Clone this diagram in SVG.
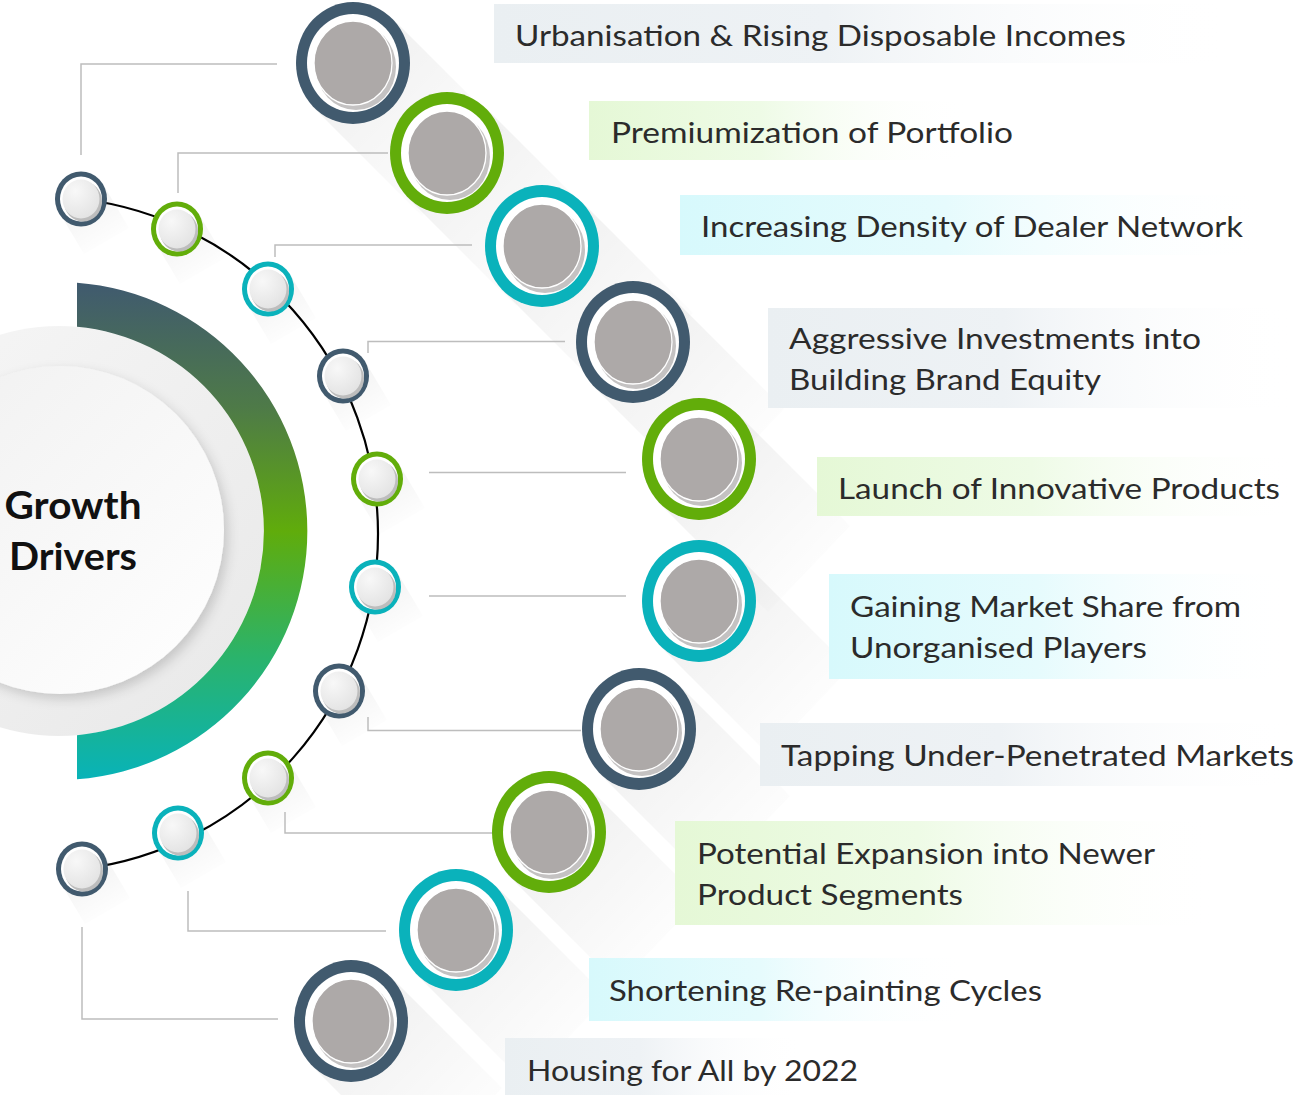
<svg xmlns="http://www.w3.org/2000/svg" width="1294" height="1095" viewBox="0 0 1294 1095">
<style>
  .lbl{font-family:Lato,"Liberation Sans",sans-serif;font-size:29px;fill:#2B2B2B}
  .title{font-family:Lato,"Liberation Sans",sans-serif;font-size:38px;font-weight:bold;fill:#111}
  .conn{fill:none;stroke:#BDBDBD;stroke-width:1.5}
  .slate{fill:#415A6E}
  .green{fill:#62AD0A}
  .teal{fill:#0AB2BB}
  .wr{fill:#FFFFFF}
  .gd{fill:#ADA9A8;stroke:#FFFFFF;stroke-width:1.3}
  .gdsh{fill:#C4C2C2}
  .sd{fill:url(#smallDisc)}
  .sdsh{fill:#BDBDBD}
  .lsB{fill:url(#shBig)}
  .lsS{fill:url(#shSmall)}
</style>
<defs>
  <linearGradient id="arcGrad" x1="0" y1="0" x2="0" y2="1">
    <stop offset="0" stop-color="#405A6F"/>
    <stop offset="0.25" stop-color="#4E7A48"/>
    <stop offset="0.5" stop-color="#60AC0B"/>
    <stop offset="0.75" stop-color="#2BB36A"/>
    <stop offset="1" stop-color="#08B3B8"/>
  </linearGradient>
  <linearGradient id="bgSlate" x1="0" y1="0" x2="1" y2="0">
    <stop offset="0" stop-color="#EAEFF2"/>
    <stop offset="0.45" stop-color="#EEF2F5"/>
    <stop offset="1" stop-color="#FFFFFF" stop-opacity="0"/>
  </linearGradient>
  <linearGradient id="bgGreen" x1="0" y1="0" x2="1" y2="0">
    <stop offset="0" stop-color="#E5F8D6"/>
    <stop offset="0.45" stop-color="#EEFBE6"/>
    <stop offset="1" stop-color="#FFFFFF" stop-opacity="0"/>
  </linearGradient>
  <linearGradient id="bgTeal" x1="0" y1="0" x2="1" y2="0">
    <stop offset="0" stop-color="#D7F9FC"/>
    <stop offset="0.45" stop-color="#E6FBFD"/>
    <stop offset="1" stop-color="#FFFFFF" stop-opacity="0"/>
  </linearGradient>
  <linearGradient id="shBig" x1="0" y1="0" x2="1" y2="1">
    <stop offset="0.3" stop-color="#000" stop-opacity="0.05"/>
    <stop offset="0.9" stop-color="#000" stop-opacity="0"/>
  </linearGradient>
  <linearGradient id="shSmall" x1="0" y1="0" x2="0.6" y2="1">
    <stop offset="0.25" stop-color="#000" stop-opacity="0.05"/>
    <stop offset="1" stop-color="#000" stop-opacity="0"/>
  </linearGradient>
  <radialGradient id="smallDisc" cx="0.35" cy="0.3" r="0.75">
    <stop offset="0" stop-color="#F8F8F8"/>
    <stop offset="1" stop-color="#E3E3E3"/>
  </radialGradient>
  <linearGradient id="outerDisc" x1="0" y1="0" x2="1" y2="1">
    <stop offset="0" stop-color="#F7F7F7"/>
    <stop offset="1" stop-color="#E8E8E8"/>
  </linearGradient>
  <linearGradient id="innerDisc" x1="1" y1="1" x2="0" y2="0">
    <stop offset="0" stop-color="#FFFFFF"/>
    <stop offset="1" stop-color="#F0F0F0"/>
  </linearGradient>
  <filter id="softSh" x="-20%" y="-20%" width="140%" height="140%">
    <feDropShadow dx="4" dy="5" stdDeviation="6" flood-color="#000" flood-opacity="0.16"/>
  </filter>
</defs>

<!-- long shadows -->
<g id="long-shadows">
  <polygon class="lsS" points="104,186 59,212 84,254 129,228"/>
  <polygon class="lsS" points="200,216 155,242 180,284 225,258"/>
  <polygon class="lsS" points="291,276 246,302 271,344 316,318"/>
  <polygon class="lsS" points="366,363 321,389 346,431 391,405"/>
  <polygon class="lsS" points="400,466 355,492 380,534 425,508"/>
  <polygon class="lsS" points="398,574 353,600 378,642 423,616"/>
  <polygon class="lsS" points="362,678 317,704 342,746 387,720"/>
  <polygon class="lsS" points="291,765 246,791 271,833 316,807"/>
  <polygon class="lsS" points="201,820 156,846 181,888 226,862"/>
  <polygon class="lsS" points="105,856 60,882 85,924 130,898"/>

  <polygon class="lsB" points="394,20 312,106 422,216 504,130"/>
  <polygon class="lsB" points="488,110 406,196 516,306 598,220"/>
  <polygon class="lsB" points="583,203 501,289 611,399 693,313"/>
  <polygon class="lsB" points="674,299 592,385 702,495 784,409"/>
  <polygon class="lsB" points="740,416 658,502 768,612 850,526"/>
  <polygon class="lsB" points="740,558 658,644 768,754 850,668"/>
  <polygon class="lsB" points="680,686 598,772 708,882 790,796"/>
  <polygon class="lsB" points="590,789 508,875 618,985 700,899"/>
  <polygon class="lsB" points="497,887 415,973 525,1083 607,997"/>
  <polygon class="lsB" points="392,978 310,1064 420,1174 502,1088"/>
</g>

<!-- label backgrounds -->
<g id="label-boxes">
  <rect x="494" y="4" width="740" height="59" fill="url(#bgSlate)"/>
  <rect x="589" y="101" width="380" height="59" fill="url(#bgGreen)"/>
  <rect x="680" y="195" width="590" height="60" fill="url(#bgTeal)"/>
  <rect x="768" y="308" width="526" height="100" fill="url(#bgSlate)"/>
  <rect x="817" y="457" width="477" height="59" fill="url(#bgGreen)"/>
  <rect x="829" y="574" width="465" height="105" fill="url(#bgTeal)"/>
  <rect x="760" y="723" width="534" height="63" fill="url(#bgSlate)"/>
  <rect x="675" y="821" width="540" height="104" fill="url(#bgGreen)"/>
  <rect x="589" y="958" width="380" height="63" fill="url(#bgTeal)"/>
  <rect x="505" y="1038" width="300" height="57" fill="url(#bgSlate)"/>
</g>

<!-- central hub -->
<g id="hub">
  <circle cx="59" cy="531" r="205" fill="url(#outerDisc)"/>
  <path d="M77,282.7 A249,249 0 0 1 77,779.3 L77,735.2 A205,205 0 0 0 77,326.8 Z" fill="url(#arcGrad)"/>
  <circle cx="60" cy="530" r="164" fill="url(#innerDisc)" filter="url(#softSh)"/>
  <text class="title" x="73" y="519" text-anchor="middle" textLength="137" lengthAdjust="spacingAndGlyphs">Growth</text>
  <text class="title" x="73" y="570" text-anchor="middle" textLength="128" lengthAdjust="spacingAndGlyphs">Drivers</text>
</g>

<!-- connectors -->
<g id="connectors">
  <path d="M81,199 A337.5,337.5 0 0 1 82,869" fill="none" stroke="#000" stroke-width="2.2"/>
  <path class="conn" d="M81,155 V64 H277"/>
  <path class="conn" d="M178,193 V153 H388"/>
  <path class="conn" d="M275,257 V245 H472"/>
  <path class="conn" d="M368,353 V341.5 H565"/>
  <path class="conn" d="M429,472.5 H626"/>
  <path class="conn" d="M429,596 H626"/>
  <path class="conn" d="M368,717 V730.5 H581"/>
  <path class="conn" d="M285,812 V833 H493"/>
  <path class="conn" d="M188,891 V931 H386"/>
  <path class="conn" d="M82,927 V1019 H278"/>
</g>

<!-- small markers on arc -->
<g id="marker-1" transform="translate(81,199)"><ellipse class="slate" rx="26" ry="27.5"/><ellipse class="wr" rx="21" ry="22.5"/><ellipse class="sdsh" cx="2" cy="2.5" rx="19" ry="20"/><ellipse class="sd" rx="18.5" ry="19.5"/></g>
<g id="marker-2" transform="translate(177,229)"><ellipse class="green" rx="26" ry="27.5"/><ellipse class="wr" rx="21" ry="22.5"/><ellipse class="sdsh" cx="2" cy="2.5" rx="19" ry="20"/><ellipse class="sd" rx="18.5" ry="19.5"/></g>
<g id="marker-3" transform="translate(268,289)"><ellipse class="teal" rx="26" ry="27.5"/><ellipse class="wr" rx="21" ry="22.5"/><ellipse class="sdsh" cx="2" cy="2.5" rx="19" ry="20"/><ellipse class="sd" rx="18.5" ry="19.5"/></g>
<g id="marker-4" transform="translate(343,376)"><ellipse class="slate" rx="26" ry="27.5"/><ellipse class="wr" rx="21" ry="22.5"/><ellipse class="sdsh" cx="2" cy="2.5" rx="19" ry="20"/><ellipse class="sd" rx="18.5" ry="19.5"/></g>
<g id="marker-5" transform="translate(377,479)"><ellipse class="green" rx="26" ry="27.5"/><ellipse class="wr" rx="21" ry="22.5"/><ellipse class="sdsh" cx="2" cy="2.5" rx="19" ry="20"/><ellipse class="sd" rx="18.5" ry="19.5"/></g>
<g id="marker-6" transform="translate(375,587)"><ellipse class="teal" rx="26" ry="27.5"/><ellipse class="wr" rx="21" ry="22.5"/><ellipse class="sdsh" cx="2" cy="2.5" rx="19" ry="20"/><ellipse class="sd" rx="18.5" ry="19.5"/></g>
<g id="marker-7" transform="translate(339,691)"><ellipse class="slate" rx="26" ry="27.5"/><ellipse class="wr" rx="21" ry="22.5"/><ellipse class="sdsh" cx="2" cy="2.5" rx="19" ry="20"/><ellipse class="sd" rx="18.5" ry="19.5"/></g>
<g id="marker-8" transform="translate(268,778)"><ellipse class="green" rx="26" ry="27.5"/><ellipse class="wr" rx="21" ry="22.5"/><ellipse class="sdsh" cx="2" cy="2.5" rx="19" ry="20"/><ellipse class="sd" rx="18.5" ry="19.5"/></g>
<g id="marker-9" transform="translate(178,833)"><ellipse class="teal" rx="26" ry="27.5"/><ellipse class="wr" rx="21" ry="22.5"/><ellipse class="sdsh" cx="2" cy="2.5" rx="19" ry="20"/><ellipse class="sd" rx="18.5" ry="19.5"/></g>
<g id="marker-10" transform="translate(82,869)"><ellipse class="slate" rx="26" ry="27.5"/><ellipse class="wr" rx="21" ry="22.5"/><ellipse class="sdsh" cx="2" cy="2.5" rx="19" ry="20"/><ellipse class="sd" rx="18.5" ry="19.5"/></g>

<!-- big nodes -->
<g id="node-1" transform="translate(353,63)"><ellipse class="slate" rx="57" ry="61"/><ellipse class="wr" rx="46" ry="49"/><ellipse class="gdsh" cx="3" cy="4" rx="40" ry="43"/><ellipse class="gd" rx="39" ry="42"/></g>
<g id="node-2" transform="translate(447,153)"><ellipse class="green" rx="57" ry="61"/><ellipse class="wr" rx="46" ry="49"/><ellipse class="gdsh" cx="3" cy="4" rx="40" ry="43"/><ellipse class="gd" rx="39" ry="42"/></g>
<g id="node-3" transform="translate(542,246)"><ellipse class="teal" rx="57" ry="61"/><ellipse class="wr" rx="46" ry="49"/><ellipse class="gdsh" cx="3" cy="4" rx="40" ry="43"/><ellipse class="gd" rx="39" ry="42"/></g>
<g id="node-4" transform="translate(633,342)"><ellipse class="slate" rx="57" ry="61"/><ellipse class="wr" rx="46" ry="49"/><ellipse class="gdsh" cx="3" cy="4" rx="40" ry="43"/><ellipse class="gd" rx="39" ry="42"/></g>
<g id="node-5" transform="translate(699,459)"><ellipse class="green" rx="57" ry="61"/><ellipse class="wr" rx="46" ry="49"/><ellipse class="gdsh" cx="3" cy="4" rx="40" ry="43"/><ellipse class="gd" rx="39" ry="42"/></g>
<g id="node-6" transform="translate(699,601)"><ellipse class="teal" rx="57" ry="61"/><ellipse class="wr" rx="46" ry="49"/><ellipse class="gdsh" cx="3" cy="4" rx="40" ry="43"/><ellipse class="gd" rx="39" ry="42"/></g>
<g id="node-7" transform="translate(639,729)"><ellipse class="slate" rx="57" ry="61"/><ellipse class="wr" rx="46" ry="49"/><ellipse class="gdsh" cx="3" cy="4" rx="40" ry="43"/><ellipse class="gd" rx="39" ry="42"/></g>
<g id="node-8" transform="translate(549,832)"><ellipse class="green" rx="57" ry="61"/><ellipse class="wr" rx="46" ry="49"/><ellipse class="gdsh" cx="3" cy="4" rx="40" ry="43"/><ellipse class="gd" rx="39" ry="42"/></g>
<g id="node-9" transform="translate(456,930)"><ellipse class="teal" rx="57" ry="61"/><ellipse class="wr" rx="46" ry="49"/><ellipse class="gdsh" cx="3" cy="4" rx="40" ry="43"/><ellipse class="gd" rx="39" ry="42"/></g>
<g id="node-10" transform="translate(351,1021)"><ellipse class="slate" rx="57" ry="61"/><ellipse class="wr" rx="46" ry="49"/><ellipse class="gdsh" cx="3" cy="4" rx="40" ry="43"/><ellipse class="gd" rx="39" ry="42"/></g>

<!-- labels -->
<g id="labels">
  <text class="lbl" x="515" y="46" textLength="611" lengthAdjust="spacingAndGlyphs">Urbanisation &amp; Rising Disposable Incomes</text>
  <text class="lbl" x="611" y="143" textLength="402" lengthAdjust="spacingAndGlyphs">Premiumization of Portfolio</text>
  <text class="lbl" x="701" y="237" textLength="542" lengthAdjust="spacingAndGlyphs">Increasing Density of Dealer Network</text>
  <text class="lbl" x="789" y="349" textLength="412" lengthAdjust="spacingAndGlyphs">Aggressive Investments into</text>
  <text class="lbl" x="789" y="390" textLength="312" lengthAdjust="spacingAndGlyphs">Building Brand Equity</text>
  <text class="lbl" x="838" y="499" textLength="442" lengthAdjust="spacingAndGlyphs">Launch of Innovative Products</text>
  <text class="lbl" x="850" y="617" textLength="391" lengthAdjust="spacingAndGlyphs">Gaining Market Share from</text>
  <text class="lbl" x="850" y="658" textLength="297" lengthAdjust="spacingAndGlyphs">Unorganised Players</text>
  <text class="lbl" x="781" y="766" textLength="513" lengthAdjust="spacingAndGlyphs">Tapping Under-Penetrated Markets</text>
  <text class="lbl" x="697" y="864" textLength="458" lengthAdjust="spacingAndGlyphs">Potential Expansion into Newer</text>
  <text class="lbl" x="697" y="905" textLength="266" lengthAdjust="spacingAndGlyphs">Product Segments</text>
  <text class="lbl" x="609" y="1001" textLength="433" lengthAdjust="spacingAndGlyphs">Shortening Re-painting Cycles</text>
  <text class="lbl" x="527" y="1081" textLength="331" lengthAdjust="spacingAndGlyphs">Housing for All by 2022</text>
</g>
</svg>
